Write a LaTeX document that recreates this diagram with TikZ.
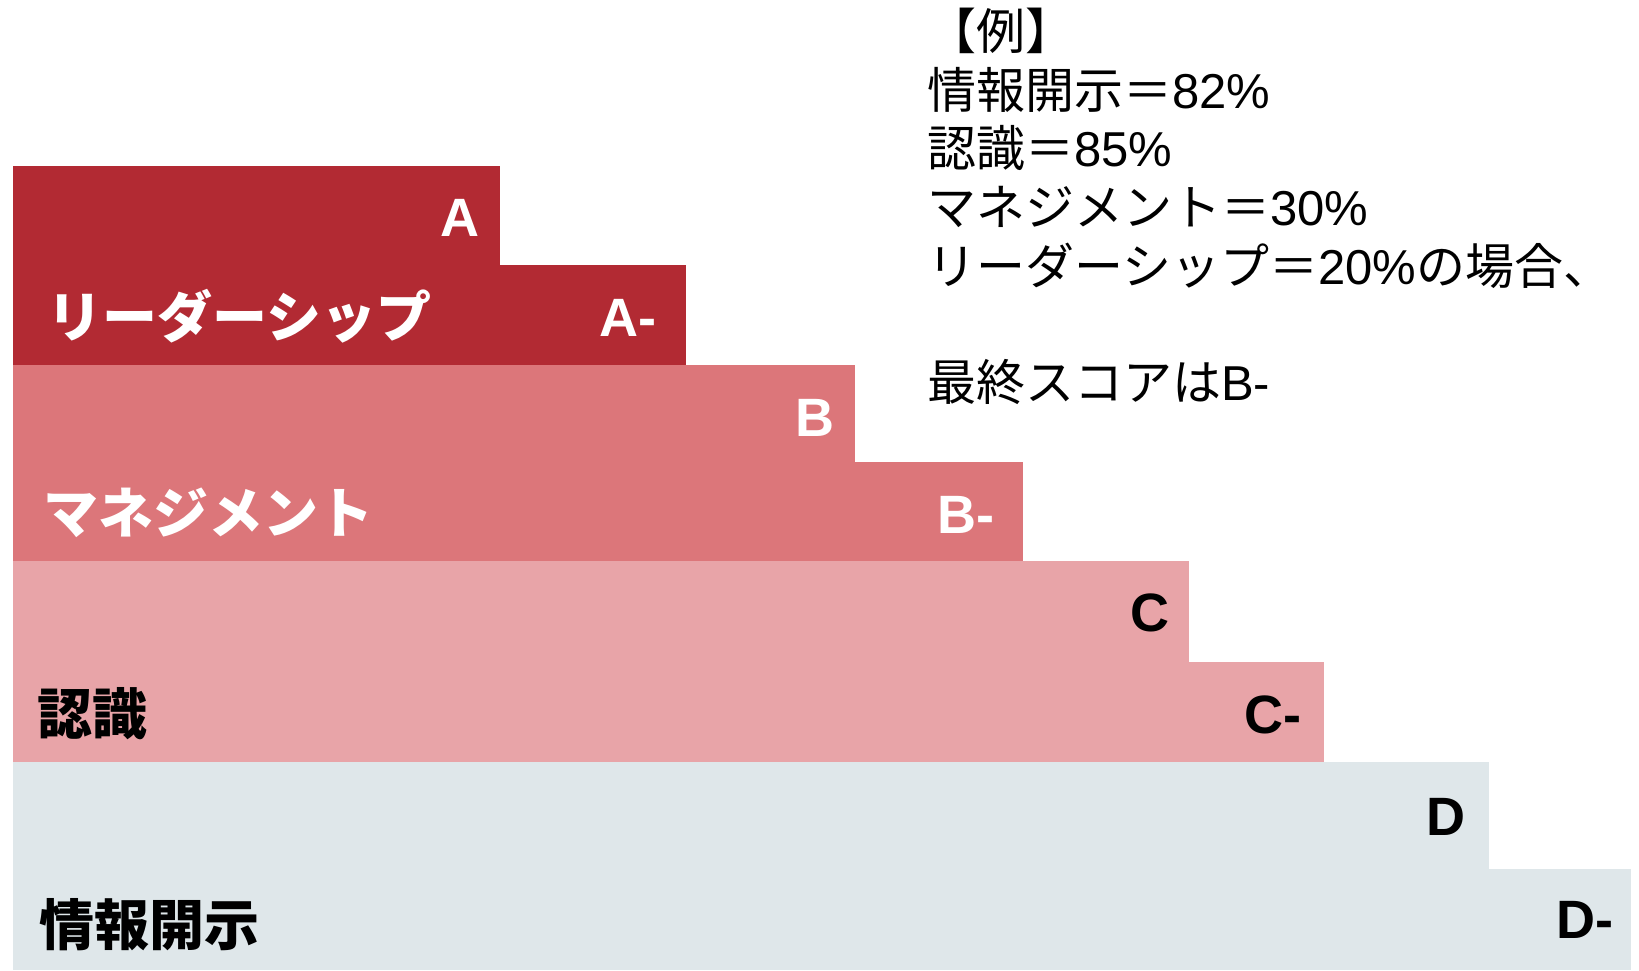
\documentclass[tikz,border=0pt]{standalone}
\usepackage{fontspec}
\setmainfont{Liberation Sans}
\newfontfamily\jp{Noto Sans CJK JP}
\definecolor{cA}{HTML}{B22A33}
\definecolor{cB}{HTML}{DC767A}
\definecolor{cC}{HTML}{E8A4A8}
\definecolor{cD}{HTML}{DFE7EA}
\tikzset{
  grade/.style={font=\bfseries\fontsize{54}{54}\selectfont, anchor=base east, inner sep=0pt},
  cat/.style={font=\jp\bfseries\fontsize{55}{55}\selectfont, anchor=base west, inner sep=0pt},
  note/.style={font=\fontsize{49}{49}\selectfont, anchor=base west, inner sep=0pt, text=black}
}
\begin{document}
\begin{tikzpicture}[x=1pt,y=-1pt]
\useasboundingbox (0,0) rectangle (1639,970);
% bands
\fill[cA] (13,165.5) rectangle (500,265);
\fill[cA] (13,265) rectangle (686,365);
\fill[cB] (13,365) rectangle (855,462);
\fill[cB] (13,462) rectangle (1022.5,561);
\fill[cC] (13,561) rectangle (1188.5,662);
\fill[cC] (13,662) rectangle (1323.5,762);
\fill[cD] (13,762) rectangle (1488.5,868.5);
\fill[cD] (13,868.5) rectangle (1631,970);
% grades
\node[grade, text=white] (gA) at (480,236.7) {A};
\node[grade, text=white] (gAm) at (657,336.7) {A-};
\node[grade, text=white] (gB) at (834.5,436) {B};
\node[grade, text=white] (gBm) at (995,533.5) {B-};
\node[grade, text=black] (gC) at (1169.5,631.5) {C};
\node[grade, text=black] (gCm) at (1302,733) {C-};
\node[grade, text=black] (gD) at (1466,835) {D};
\node[grade, text=black] (gDm) at (1614,938.3) {D-};
% categories
\node[cat, text=white] (lead) at (47,337) {リーダーシップ};
\node[cat, text=white] (mgmt) at (43,533) {マネジメント};
\node[cat, text=black] (recog) at (37,734.5) {認識};
\node[cat, text=black] (disc) at (39,945) {情報開示};
% example text
\node[note] (n1) at (927,49) {{\jp 【例】}};
\node[note] (n2) at (927,108) {{\jp 情報開示＝}82\%};
\node[note] (n3) at (927,166.5) {{\jp 認識＝}85\%};
\node[note] (n4) at (927,225) {{\jp マネジメント＝}30\%};
\node[note] (n5) at (927,284) {{\jp リーダーシップ＝}20\%{\jp の場合、}};
\node[note] (n6) at (927,400) {{\jp 最終スコアは}B-};
\end{tikzpicture}
\end{document}
